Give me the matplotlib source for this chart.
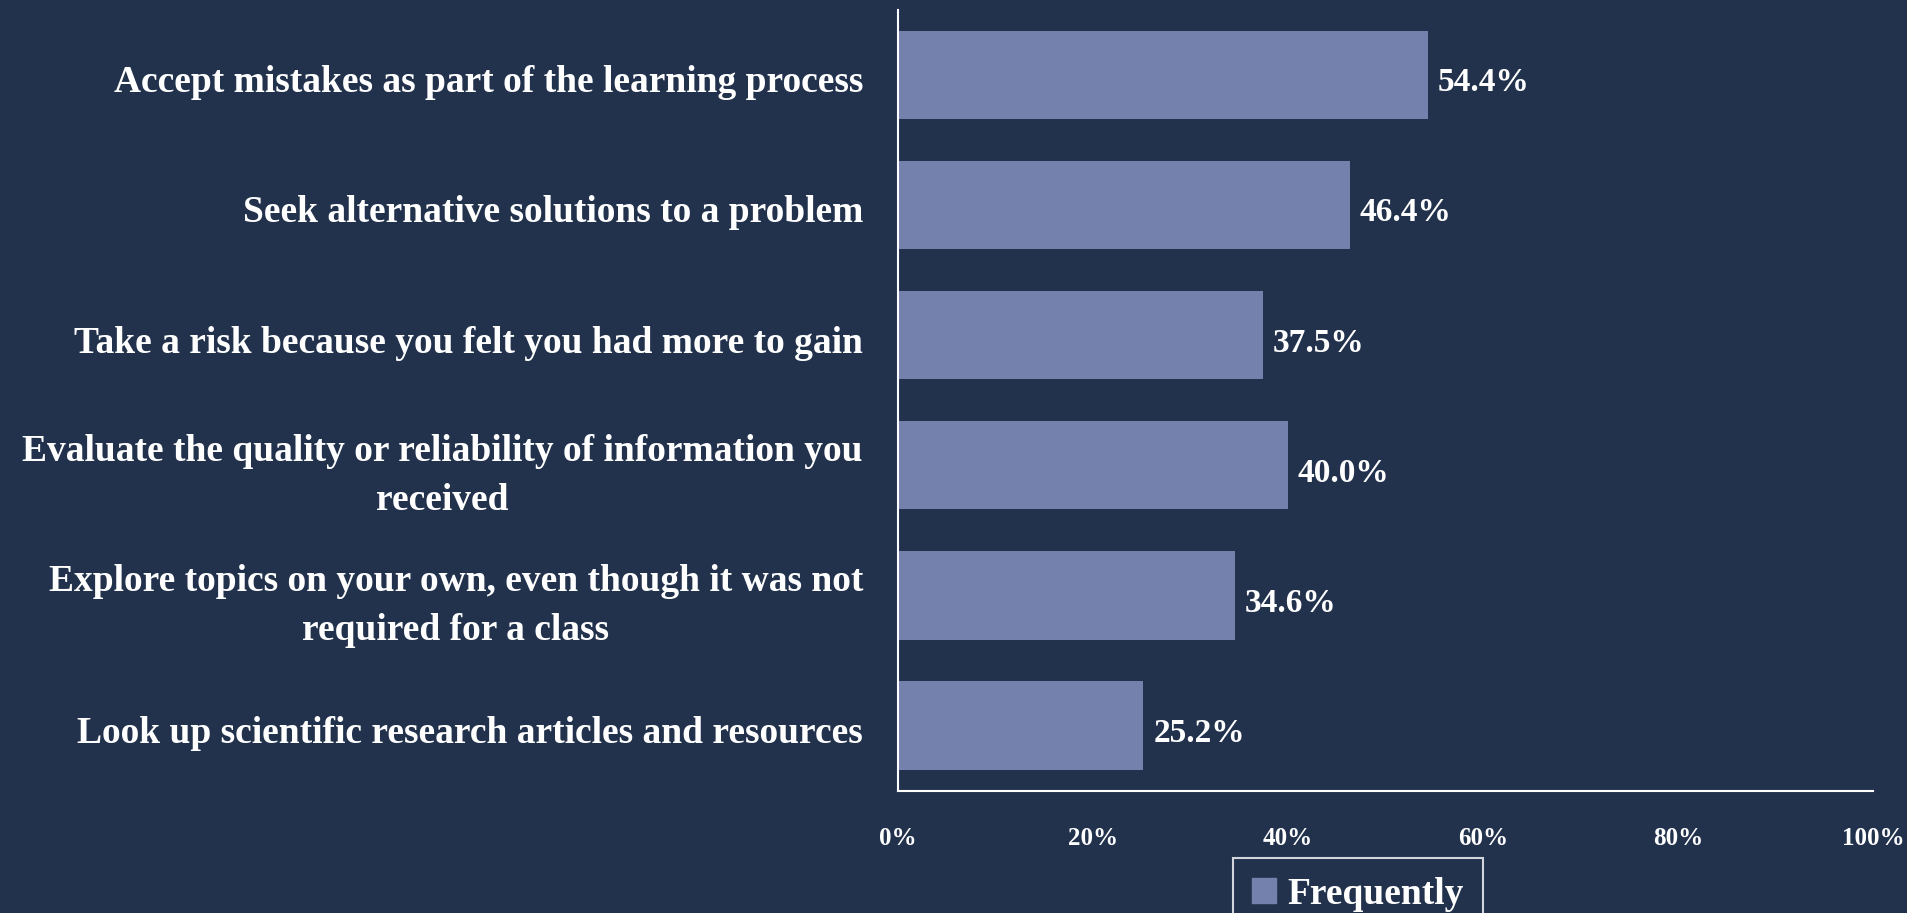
import matplotlib
matplotlib.use("Agg")
import matplotlib.pyplot as plt
import matplotlib.transforms as mtransforms
from matplotlib.patches import Patch

plt.rcParams["font.family"] = ["Liberation Serif", "DejaVu Serif"]

# Data
categories = [
    "Accept mistakes as part of the learning process",
    "Seek alternative solutions to a problem",
    "Take a risk because you felt you had more to gain",
    "Evaluate the quality or reliability of information you\nreceived",
    "Explore topics on your own, even though it was not\nrequired for a class",
    "Look up scientific research articles and resources",
]
frequently = [54.4, 46.4, 37.5, 40.0, 34.6, 25.2]
xticks = [0, 20, 40, 60, 80, 100]
xtick_labels = ["0%", "20%", "40%", "60%", "80%", "100%"]
series_name = "Frequently"

bg = "#22324D"
bar_color = "#7581AD"

fig = plt.figure(figsize=(19.07, 9.13), dpi=100)
fig.patch.set_facecolor(bg)
ax = fig.add_axes([897.6 / 1907, 1 - 790.5 / 913, (1873 - 897.6) / 1907, (790.5 - 9.7) / 913])
ax.set_facecolor(bg)

ypos = list(range(len(categories)))
bars = ax.barh(ypos, frequently, height=0.68, color=bar_color)
ax.set_ylim(len(categories) - 0.5, -0.5)
ax.set_xlim(0, 100)

# value labels
for y, v in zip(ypos, frequently):
    ax.text(v + 1.0, y + 0.035, f"{v:.1f}%", va="center_baseline", ha="left",
            color="white", fontsize=24, fontweight="bold")

ax.set_yticks(ypos)
ax.set_yticklabels(categories, fontsize=27, color="white", fontweight="bold",
                   multialignment="center", linespacing=1.5)
ax.set_xticks(xticks)
ax.set_xticklabels(xtick_labels, fontsize=18, color="white", fontweight="bold")
ax.tick_params(axis="y", length=0, pad=25)
ax.tick_params(axis="x", length=0, pad=26)

# nudge single-line category labels down a little
shift = mtransforms.ScaledTranslation(0, -0.04, fig.dpi_scale_trans)
for lbl in ax.get_yticklabels():
    if "\n" not in lbl.get_text():
        lbl.set_transform(lbl.get_transform() + shift)

for s in ["top", "right"]:
    ax.spines[s].set_visible(False)
for s in ["left", "bottom"]:
    ax.spines[s].set_color("white")
    ax.spines[s].set_linewidth(1.5)

leg = fig.legend(handles=[Patch(color=bar_color, label=series_name)],
                 loc="upper center", bbox_to_anchor=(1358 / 1907, 1 - 858 / 913),
                 borderaxespad=0, frameon=True, fancybox=False,
                 facecolor=bg, edgecolor="white", handlelength=0.65,
                 handleheight=0.65, handletextpad=0.3, borderpad=0.5,
                 labelcolor="white", prop={"weight": "bold", "size": 27})
leg.get_frame().set_linewidth(1.5)

fig.savefig("out.png", dpi=100, facecolor=bg)
